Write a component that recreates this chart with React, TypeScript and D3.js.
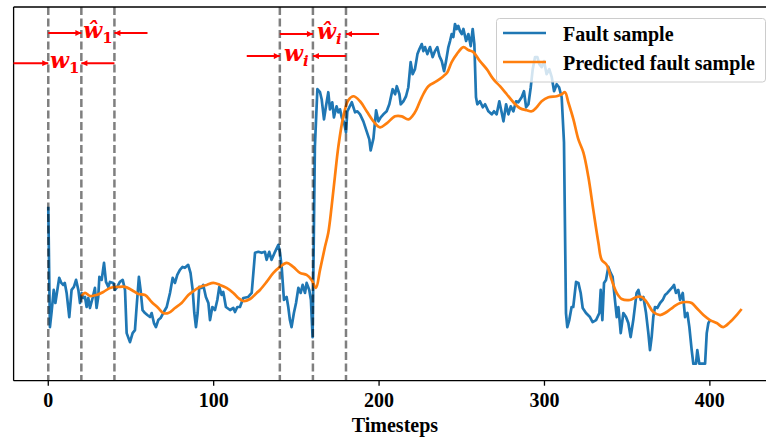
import React from 'react';
import * as d3 from 'd3';

const W = 766;
const H = 439;

// Fault sample: [timestep, value]
const faultSample: [number, number][] = [
  [0,17.3],[1,5.3],[2,6.8],[3.3,9.0],[4.3,7.7],[6.6,10.2],[7.9,9.7],[9,9.5],[10,9.7],[11.1,8.7],[12.7,6.3],[14.1,9.0],[15.5,9.3],[16.8,10.0],[18.2,9.0],[19.2,7.7],[20.2,8.7],[21.2,8.2],[22.2,8.3],[23.2,7.3],[24.2,8.2],[25.2,7.2],[26.8,8.2],[28.2,9.2],[29.2,7.2],[30.2,8.3],[30.9,10.3],[32.3,10.0],[33.7,11.7],[34.9,9.8],[36.3,9.3],[37.3,9.8],[39.3,9.7],[40.3,9.0],[41.7,9.3],[43.3,9.8],[45,10.0],[46.4,9.0],[47.4,4.7],[49.4,3.8],[51,4.7],[52.4,5.0],[53.4,7.3],[54.8,10.3],[55.8,9.0],[57,7.0],[58.5,6.7],[59.9,6.5],[61.5,6.3],[62.5,6.7],[63.9,5.7],[65.1,5.3],[66.5,6.0],[67.9,6.2],[69.5,6.7],[71.6,7.3],[73.6,8.7],[75.2,10.2],[76.6,9.7],[78,10.5],[79.6,11.0],[81.2,11.3],[82.6,11.2],[84.6,11.5],[86,10.7],[87.3,9.0],[88.3,6.7],[89.3,5.3],[90.3,6.7],[91.3,9.3],[92.7,9.2],[93.7,9.5],[95.3,8.3],[96.8,7.7],[97.8,6.0],[99.2,7.3],[100.8,7.0],[102.2,8.0],[103.4,9.3],[104.8,8.5],[105.8,8.8],[107.4,7.3],[109.9,7.0],[111.9,7.2],[112.9,6.8],[114.3,7.3],[115.9,7.3],[117.9,8.2],[120.9,8.3],[123,8.7],[125,12.7],[127,12.8],[129,12.7],[131,12.8],[132,12.0],[133.6,12.8],[135,12.0],[137.1,12.8],[139.1,13.5],[140.1,12.7],[141.1,11.3],[142.5,8.0],[144.1,8.3],[145.1,7.3],[146.1,6.0],[147.1,5.3],[148.5,6.7],[149.8,7.7],[151.2,9.2],[152.6,8.7],[153.8,9.5],[155.2,8.7],[156.2,9.7],[157.8,9.0],[158.8,8.0],[159.8,4.3],[161.2,23.3],[162.7,29.0],[164.3,28.7],[165.3,28.0],[166.7,26.0],[167.9,27.3],[169.3,28.7],[170.3,27.0],[171.7,27.7],[172.7,26.2],[174.3,27.3],[175.4,26.7],[176.4,27.0],[177.4,26.2],[178.8,25.7],[180,24.7],[180.8,26.8],[183.5,27.7],[185.5,26.7],[186.9,26.8],[188.5,26.5],[190.5,25.8],[192.5,24.8],[194.1,24.0],[194.9,22.9],[196.6,24.1],[198.2,26.9],[199.6,25.8],[201,26.2],[202.6,26.5],[204.6,26.8],[206.2,27.5],[208.2,29.0],[209.7,28.5],[210.7,29.3],[212.3,28.5],[213.1,27.5],[214.7,27.8],[216.3,28.3],[217.7,29.2],[219.1,31.7],[220.3,30.5],[221.7,31.0],[223.2,32.5],[224.4,33.0],[225.8,33.5],[226.8,32.8],[227.8,33.2],[229.2,32.5],[230.8,33.2],[232.4,32.2],[233.8,32.8],[235.2,33.2],[236.5,32.3],[237.9,31.8],[239.3,30.8],[240.5,31.8],[241.9,33.2],[242.9,33.8],[243.9,34.5],[244.9,34.2],[245.9,35.5],[246.9,35.0],[247.9,35.3],[248.9,34.8],[250,34.5],[251,35.0],[252.6,33.8],[254,34.5],[255.4,33.3],[256.6,35.0],[257.6,33.5],[258.6,28.2],[259.4,27.5],[261,27.8],[262.7,27.2],[264.1,27.5],[266.1,26.8],[268.1,26.5],[269.5,26.8],[271.1,26.5],[272.7,27.8],[274.1,26.7],[275.2,25.8],[276.8,27.5],[278.2,26.5],[279.6,27.3],[281.2,26.8],[282.8,27.8],[284.2,27.7],[286.2,28.2],[287.6,28.8],[288.9,27.2],[290.3,27.5],[291.7,29.2],[292.9,31.0],[294.3,32.2],[295.7,32.2],[296.9,31.5],[298.3,31.2],[299.7,31.8],[301.3,30.5],[302.9,31.0],[304.4,30.2],[305.8,28.8],[307.4,29.5],[308.8,29.2],[310.4,28.2],[311.8,23.7],[313,6.7],[313.8,5.3],[315,6.0],[316.4,7.3],[317.4,7.3],[319.1,9.8],[320.5,9.7],[321.9,8.7],[323.1,7.2],[325.1,6.7],[327.5,6.3],[329.1,5.8],[331.2,6.0],[333.2,6.7],[334,9.0],[335,6.0],[336,9.7],[337.2,10.0],[338.6,11.3],[340,10.7],[341.2,10.3],[342.6,8.0],[343.7,6.3],[344.7,7.3],[346.1,4.7],[347.7,6.7],[349.3,6.3],[350.7,5.7],[352.1,4.3],[353.7,6.0],[355.7,8.7],[356.8,9.0],[358.2,8.0],[359.8,8.3],[361.4,6.7],[362.8,4.7],[363.8,3.0],[364.8,4.3],[365.8,6.3],[366.8,7.3],[368.2,7.2],[369.9,7.7],[371.5,8.0],[372.9,8.5],[374.3,8.7],[375.9,9.0],[377.5,9.3],[378.3,9.5],[379.5,8.7],[380.9,9.0],[382,8.0],[383.6,8.7],[385,6.3],[386.4,6.7],[387.6,5.3],[389,3.0],[390,1.65],[391.6,1.65],[392.4,3.0],[393.6,1.65],[397.1,1.65],[398.1,4.7],[399.1,5.7],[400.1,6.0]
];

// Predicted fault sample: [timestep, value]
const predictedSample: [number, number][] = [
  [20,8.4],[22.2,8.7],[25.2,8.4],[29.2,8.5],[33.3,8.8],[37.3,9.2],[42.3,9.3],[46.4,9.3],[50.4,9.0],[54.4,8.6],[58.5,8.5],[62.5,7.8],[66.5,7.2],[69.5,6.7],[72.6,6.7],[76.6,7.2],[80.6,7.7],[84.7,8.5],[88.7,9.0],[91.7,9.3],[95.8,9.5],[99.8,9.7],[103.8,9.5],[107.8,9.2],[111.9,8.7],[114.9,8.2],[117.9,7.9],[122,8.1],[126,8.7],[128,9.0],[132,9.8],[136.1,10.7],[140.1,11.3],[144.1,11.7],[148.1,11.3],[152.2,10.7],[156.2,10.5],[159.2,10.0],[161.8,9.2],[164.3,11.0],[167.3,13.3],[169.3,14.7],[171.3,17.3],[173.3,20.3],[175.4,23.3],[178.4,26.3],[181.4,27.9],[184.5,28.3],[188.5,27.8],[192.5,26.8],[196.6,25.8],[200.6,25.2],[204.6,25.6],[209.7,26.3],[213.7,26.3],[217.7,26.0],[221.7,26.7],[225.8,28.2],[229.8,29.3],[234.8,29.8],[238.9,30.3],[241.3,30.7],[243.9,31.7],[247,32.5],[251,33.2],[254,32.9],[257,32.7],[261,31.8],[265.1,31.0],[269.1,30.0],[273.1,29.3],[277.2,28.5],[281.2,27.7],[285.2,27.1],[289.3,26.9],[292.3,26.8],[295.3,27.2],[298.3,27.8],[302.4,28.2],[307.4,28.3],[310.4,28.5],[312.4,28.7],[314.4,27.7],[317.5,26.0],[320.5,24.0],[323.5,22.7],[326.5,20.3],[329.5,17.0],[332.6,13.7],[334.6,12.0],[337.6,11.5],[340.6,10.0],[343.7,8.7],[346.7,8.1],[351.7,8.0],[355.7,8.3],[358.8,8.3],[361.8,7.8],[365.8,6.8],[369.9,6.5],[373.9,6.8],[377.9,7.3],[382,7.7],[386,7.8],[389,7.7],[392,7.2],[396.1,6.5],[400.1,6.0],[404.1,5.7],[408.1,5.3],[412.2,5.8],[416.2,6.5],[419.2,7.1]
];

const xTickValues = [0, 100, 200, 300, 400];
const windowLines = [0, 20, 40, 140, 160, 180];
const seriesNames = ['Fault sample', 'Predicted fault sample'];
const seriesColors = ['#1f77b4', '#ff7f0e'];
const xLabel = 'Timesteps';

// window annotation arrows
const arrowFrom = [0, 60, -21, 40, 140, 200, 120, 180];
const arrowTo = [20, 40, 0, 20, 160, 180, 140, 160];
const arrowLevel = [34.6, 34.6, 31.6, 31.6, 34.5, 34.5, 32.3, 32.3];
const windowLabelBase = ['\u0175', 'w', '\u0175', 'w'];
const windowLabelSub = ['1', '1', 'i', 'i'];
const windowLabelX = [30, 10, 170, 150];
const windowLabelLevel = [34.6, 31.6, 34.5, 32.3];

const axLeft = 13.6;
const axRight = 776.3;
const axTop = 7;
const axBottom = 380.7;

export default function App() {
  const allT = [...faultSample.map(d => d[0]), ...predictedSample.map(d => d[0])];
  const allV = [...faultSample.map(d => d[1]), ...predictedSample.map(d => d[1])];
  const [t0, t1] = d3.extent(allT) as [number, number];
  const [v0, v1] = d3.extent(allV) as [number, number];
  const tp = (t1 - t0) * 0.05;
  const vp = (v1 - v0) * 0.05;
  const x = d3.scaleLinear().domain([t0 - tp, t1 + tp]).range([axLeft, axRight]);
  const y = d3.scaleLinear().domain([v0 - vp, v1 + vp]).range([axBottom, axTop]);

  const rawLine = d3.line<[number, number]>().x(d => x(d[0])).y(d => y(d[1]));
  const smoothLine = d3.line<[number, number]>().x(d => x(d[0])).y(d => y(d[1])).curve(d3.curveCatmullRom.alpha(0.5));

  const serif = '"Liberation Serif", "Times New Roman", serif';

  return (
    <svg width={W} height={H} style={{ position: 'fixed', left: 0, top: 0, background: '#fff' }}>
      <defs>
        <marker id="ah" viewBox="0 0 10 10" refX="10" refY="5" markerWidth="7" markerHeight="6"
          markerUnits="userSpaceOnUse" orient="auto">
          <path d="M0,0 L10,5 L0,10 z" fill="#ff0000" />
        </marker>
      </defs>
      <rect x={0} y={0} width={W} height={H} fill="#fff" />
      <path d={rawLine(faultSample) || ''} fill="none" stroke={seriesColors[0]} strokeWidth={2.7} strokeLinejoin="round" />
      <path d={smoothLine(predictedSample) || ''} fill="none" stroke={seriesColors[1]} strokeWidth={2.7} strokeLinejoin="round" />
      {windowLines.map((t, i) => (
        <line key={'v' + i} x1={x(t)} x2={x(t)} y1={axTop} y2={axBottom} stroke="#000" strokeOpacity={0.5}
          strokeWidth={2.5} strokeDasharray="8,3.5" />
      ))}
      {/* spines */}
      <line x1={axLeft} x2={axLeft} y1={axTop} y2={axBottom} stroke="#000" strokeWidth={1.3} />
      <line x1={axLeft} x2={axRight} y1={axTop} y2={axTop} stroke="#000" strokeWidth={1.3} />
      <line x1={axLeft} x2={axRight} y1={axBottom} y2={axBottom} stroke="#000" strokeWidth={1.3} />
      {xTickValues.map(t => (
        <g key={'t' + t}>
          <line x1={x(t)} x2={x(t)} y1={axBottom} y2={axBottom + 5} stroke="#000" strokeWidth={1.3} />
          <text x={x(t)} y={406.5} textAnchor="middle" fontFamily={serif} fontWeight="bold" fontSize={20} fill="#000">{t}</text>
        </g>
      ))}
      <text x={(axLeft + axRight) / 2} y={432} textAnchor="middle" fontFamily={serif} fontWeight="bold" fontSize={20} fill="#000">{xLabel}</text>
      {arrowFrom.map((f, i) => (
        <line key={'a' + i} x1={x(f)} x2={x(arrowTo[i])} y1={y(arrowLevel[i])} y2={y(arrowLevel[i])}
          stroke="#ff0000" strokeWidth={2} markerEnd="url(#ah)" />
      ))}
      {windowLabelBase.map((b, i) => (
        <text key={'l' + i} x={x(windowLabelX[i])} y={y(windowLabelLevel[i]) + 5} textAnchor="middle"
          fontFamily='"DejaVu Serif", serif' fontStyle="italic" fontWeight="bold" fontSize={22} fill="#ff0000">
          {b}
          <tspan fontSize={15} dy={5} fontStyle={windowLabelSub[i] === '1' ? 'normal' : 'italic'}>{windowLabelSub[i]}</tspan>
        </text>
      ))}
      {/* legend */}
      <g>
        <rect x={496.5} y={18.5} width={269} height={63.5} rx={3} fill="#fff" fillOpacity={0.8} stroke="#cccccc" strokeWidth={1} />
        {seriesNames.map((n, i) => (
          <g key={'lg' + i}>
            <line x1={503} x2={546} y1={33 + i * 29} y2={33 + i * 29} stroke={seriesColors[i]} strokeWidth={2.7} />
            <text x={563} y={40.5 + i * 29} fontFamily={serif} fontWeight="bold" fontSize={20} fill="#000">{n}</text>
          </g>
        ))}
      </g>
    </svg>
  );
}
